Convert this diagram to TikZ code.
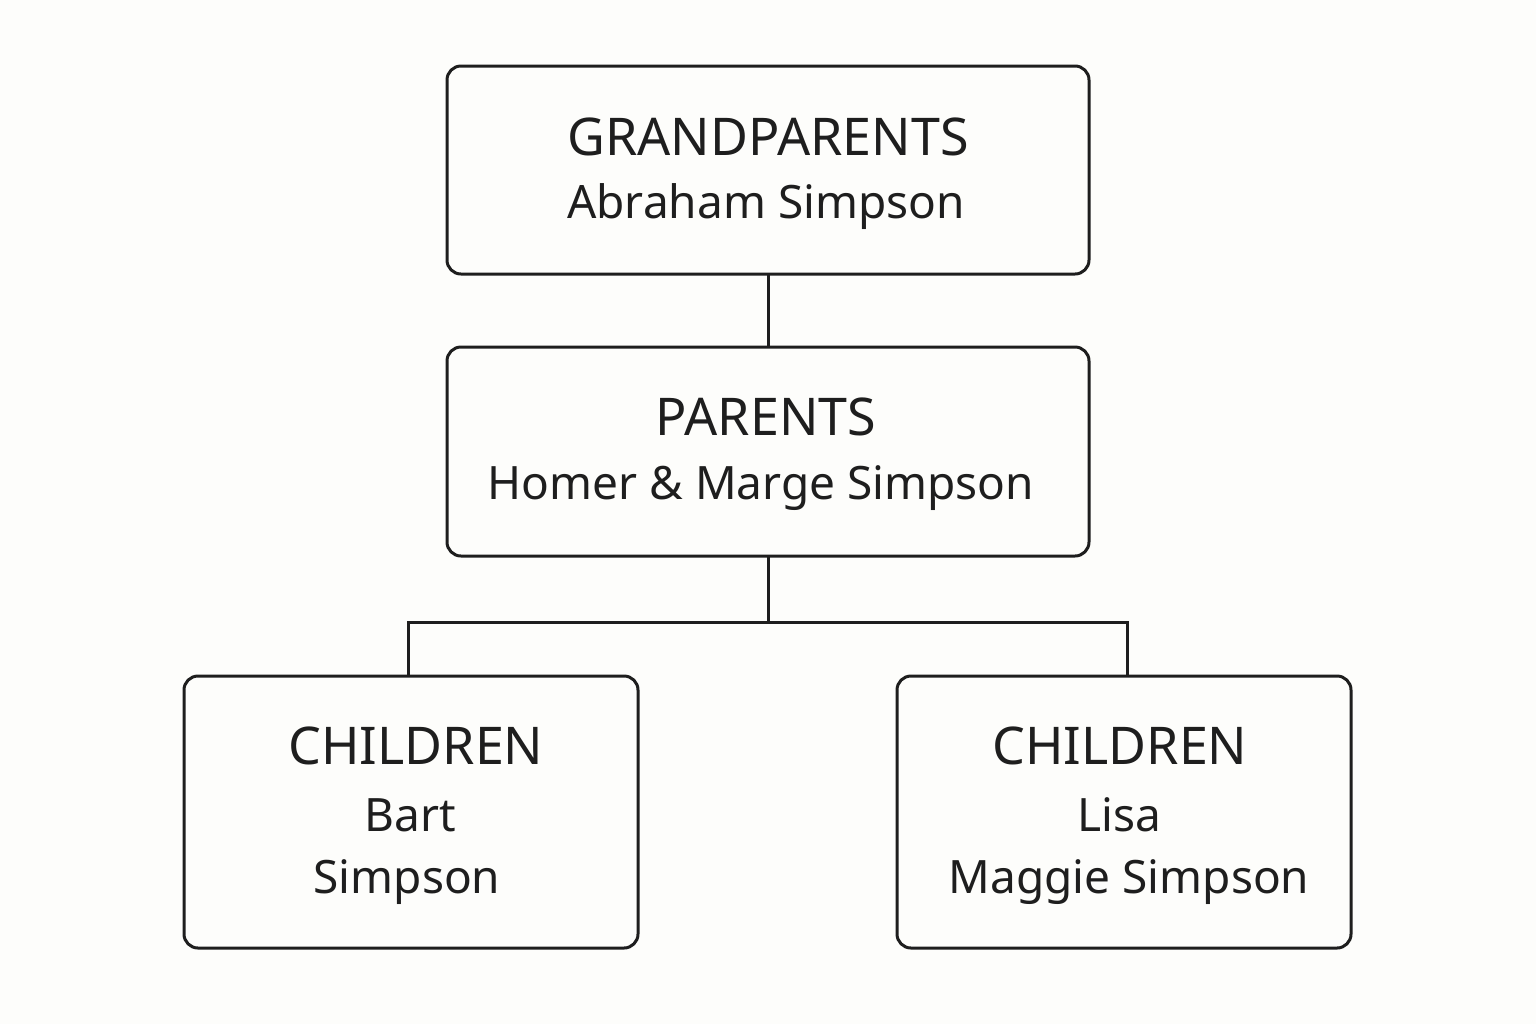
\documentclass[tikz,border=0pt]{standalone}
\usepackage{fontspec}
\setmainfont{Noto Sans}
\definecolor{ink}{HTML}{1E1E1E}
\definecolor{bg}{HTML}{FDFDFB}
\begin{document}
\begin{tikzpicture}[x=0.5pt,y=-0.5pt,
  box/.style={draw=ink,line width=1.5pt,rounded corners=7pt},
  ttl/.style={text=ink,font=\fontsize{26}{30}\selectfont\bfseries,anchor=center},
  nm/.style={text=ink,font=\fontsize{23}{27}\selectfont,anchor=center},
  link/.style={draw=ink,line width=1.5pt}]
\fill[bg] (0,0) rectangle (1536,1024);
\useasboundingbox (0,0) rectangle (1536,1024);
\draw[box] (447,66) rectangle (1089,274);
\draw[box] (447,347) rectangle (1089,556);
\draw[box] (184,676) rectangle (638,948);
\draw[box] (897,676) rectangle (1351,948);
\coordinate (gpb) at (768,274);
\coordinate (pt) at (768,347);
\coordinate (pb) at (768,556);
\coordinate (j) at (768,622);
\coordinate (jl) at (408,622);
\coordinate (jr) at (1127,622);
\coordinate (cl) at (408,676);
\coordinate (cr) at (1127,676);
\draw[link] (gpb) -- (pt);
\draw[link] (pb) -- (j);
\draw[link] (cl) -- (jl) -- (jr) -- (cr);
\node[ttl] (t1) at (768,137) {GRANDPARENTS};
\node[nm] (n1) at (766,207) {Abraham Simpson};
\node[ttl] (t2) at (766,417) {PARENTS};
\node[nm] (n2) at (761,488) {Homer \& Marge Simpson};
\node[ttl] (t3) at (416,746) {CHILDREN};
\node[nm] (n3a) at (410,815) {Bart};
\node[nm] (n3b) at (407,882) {Simpson};
\node[ttl] (t4) at (1120,746) {CHILDREN};
\node[nm] (n4a) at (1119,815) {Lisa};
\node[nm] (n4b) at (1129,882) {Maggie Simpson};
\end{tikzpicture}
\end{document}
